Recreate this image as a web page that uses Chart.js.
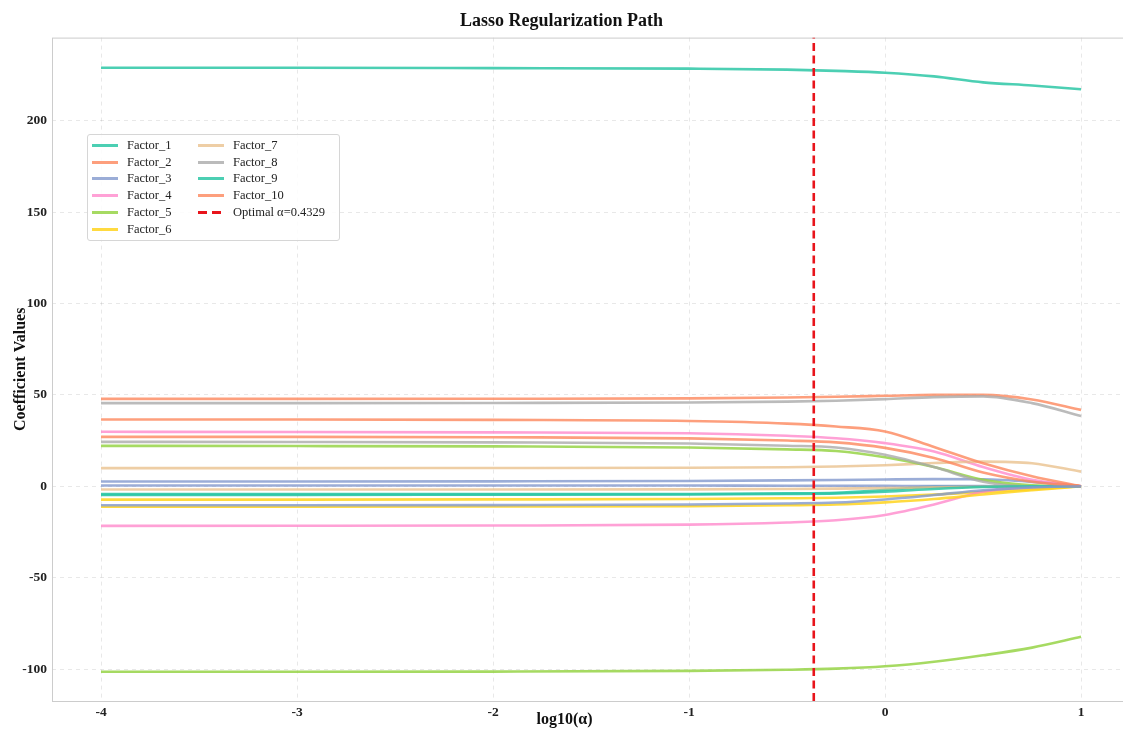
<!DOCTYPE html>
<html>
<head>
<meta charset="utf-8">
<title>Lasso Regularization Path</title>
<script src="https://cdn.jsdelivr.net/npm/chart.js@4.4.1/dist/chart.umd.min.js"></script>
<style>
  html, body { margin: 0; padding: 0; background: #fff; }
  #wrap { position: relative; width: 1123px; height: 733px; }
  #legend {
    position: absolute; left: 87px; top: 134px; width: 253px; height: 107px;
    box-sizing: border-box; border: 1px solid #d6d6d6; border-radius: 3px;
    background: rgba(255,255,255,0.85); padding: 2px 0 0 4px;
    display: grid; grid-template-columns: 106px 140px; grid-template-rows: repeat(6, 16.8px);
    grid-auto-flow: column; font: 12.5px 'Liberation Serif', 'DejaVu Serif', serif; color: #222;
  }
  .item { display: flex; align-items: center; white-space: nowrap; }
  .swatch { width: 26px; height: 3px; margin-right: 9px; flex: none; }
  #xlabel {
    position: absolute; left: 3px; width: 1123px; top: 710px; text-align: center;
    font: bold 16px 'Liberation Serif', serif; color: #111;
  }
</style>
</head>
<body>
<div id="wrap">
  <canvas id="lasso-path" width="1123" height="733"></canvas>
  <div id="legend"></div>
  <div id="xlabel">log10(α)</div>
</div>
<script>
'use strict';

// log10(alpha) grid the coefficients were read at
const ALPHA_LOG = [-4, -3, -2, -1, -0.5, -0.25, 0, 0.25, 0.5, 0.75, 1];

// coefficient values per factor
const FACTOR_1  = [229.0, 229.0, 228.8, 228.5, 228.0, 227.3, 226.3, 224.3, 221.0, 219.3, 217.2];
const FACTOR_2  = [47.8, 47.8, 47.9, 48.1, 48.6, 49.0, 49.5, 50.0, 50.0, 47.5, 41.8];
const FACTOR_3  = [2.6, 2.6, 2.7, 2.9, 3.2, 3.4, 3.7, 3.9, 3.8, 2.4, 0.0];
const FACTOR_4  = [29.8, 29.7, 29.5, 29.0, 27.6, 26.3, 23.6, 19.0, 10.5, 3.5, 0.0];
const FACTOR_5  = [-101.5, -101.5, -101.4, -101.0, -100.4, -99.8, -98.5, -96.0, -92.5, -88.3, -82.4];
const FACTOR_6  = [-7.3, -7.3, -7.2, -7.0, -6.6, -6.3, -5.6, -4.6, -3.2, -1.6, 0.0];
const FACTOR_7  = [9.9, 9.9, 10.0, 10.1, 10.4, 10.8, 11.5, 12.7, 13.5, 12.6, 8.0];
const FACTOR_8  = [45.5, 45.5, 45.6, 45.8, 46.3, 46.8, 47.7, 48.8, 49.2, 45.5, 38.5];
const FACTOR_9  = [-4.3, -4.3, -4.3, -4.2, -3.9, -3.6, -2.0, -0.2, 0.0, 0.0, 0.0];
const FACTOR_10 = [36.5, 36.5, 36.3, 35.7, 34.3, 32.7, 30.0, 21.5, 12.6, 5.5, 0.0];
const FACTOR_11 = [0.4, 0.4, 0.4, 0.4, 0.3, 0.3, 0.2, 0.1, 0.1, 0.0, 0.0];
const FACTOR_12 = [-21.7, -21.6, -21.5, -21.0, -19.8, -18.6, -15.7, -10.0, -3.0, -0.5, 0.0];
const FACTOR_13 = [22.1, 22.0, 21.8, 21.2, 20.2, 19.3, 15.9, 10.5, 3.5, 0.5, 0.0];
const FACTOR_14 = [-11.2, -11.2, -11.1, -10.9, -10.4, -10.0, -8.8, -7.0, -4.5, -2.2, 0.0];
const FACTOR_15 = [-1.8, -1.8, -1.8, -1.7, -1.5, -1.3, -1.0, -0.6, -0.3, -0.1, 0.0];
const FACTOR_16 = [24.3, 24.2, 24.0, 23.4, 22.2, 21.2, 17.2, 10.5, 2.5, 0.0, 0.0];
const FACTOR_17 = [-4.7, -4.7, -4.6, -4.5, -4.2, -3.9, -3.0, -1.5, -0.4, 0.0, 0.0];
const FACTOR_18 = [27.0, 27.0, 26.8, 26.2, 25.0, 24.0, 21.0, 15.5, 7.5, 2.5, 0.0];
const FACTOR_19 = [-10.4, -10.4, -10.3, -10.0, -9.4, -8.9, -7.2, -4.8, -2.2, -0.6, 0.0];

const FACTORS = [FACTOR_1, FACTOR_2, FACTOR_3, FACTOR_4, FACTOR_5, FACTOR_6, FACTOR_7,
    FACTOR_8, FACTOR_9, FACTOR_10, FACTOR_11, FACTOR_12, FACTOR_13, FACTOR_14,
    FACTOR_15, FACTOR_16, FACTOR_17, FACTOR_18, FACTOR_19];

const OPTIMAL_ALPHA = 0.4329;
const X_TICKS = [-4, -3, -2, -1, 0, 1];
const Y_TICKS = [-100, -50, 0, 50, 100, 150, 200];
const X_RANGE = [-4.25, 1.214];
const Y_RANGE = [-117.5, 245.5];
const LEGEND_COUNT = 10; // only the first ten factors go in the legend

const PALETTE = [
    'rgba(45,199,166,0.85)', 'rgba(252,135,92,0.8)', 'rgba(130,152,205,0.8)', 'rgba(255,130,200,0.75)',
    'rgba(150,212,70,0.85)', 'rgba(255,212,30,0.85)', 'rgba(232,190,135,0.75)', 'rgba(170,170,170,0.8)'
];
const SERIF = "'Liberation Serif', 'DejaVu Serif', serif";

const datasets = FACTORS.map((vals, i) => ({
    label: 'Factor_' + (i + 1),
    data: ALPHA_LOG.map((x, j) => ({x: x, y: vals[j]})),
    borderColor: PALETTE[i % PALETTE.length],
    borderWidth: 2.6,
    pointRadius: 0,
    cubicInterpolationMode: 'monotone',
    order: -i // later factors on top, like matplotlib
}));

const optX = Math.log10(OPTIMAL_ALPHA);
datasets.push({
    label: 'Optimal α=' + OPTIMAL_ALPHA,
    data: [{x: optX, y: Y_RANGE[0]}, {x: optX, y: Y_RANGE[1]}],
    borderColor: '#e8141b',
    borderWidth: 2.6,
    borderDash: [8, 4.5],
    pointRadius: 0,
    order: -100
});

// light frame round the plot area
const framePlugin = {
    id: 'frame',
    beforeDatasetsDraw(chart) {
        const {ctx, chartArea: a} = chart;
        ctx.save();
        ctx.strokeStyle = '#cccccc';
        ctx.lineWidth = 1;
        ctx.strokeRect(a.left + 0.5, a.top + 0.5, a.width, a.height);
        ctx.restore();
    }
};

const ctx = document.getElementById('lasso-path').getContext('2d');
const chart = new Chart(ctx, {
    type: 'line',
    data: {datasets: datasets},
    plugins: [framePlugin],
    options: {
        responsive: false,
        animation: false,
        layout: {padding: 0},
        plugins: {
            legend: {display: false},
            tooltip: {enabled: false},
            title: {
                display: true,
                text: 'Lasso Regularization Path',
                color: '#111',
                font: {family: SERIF, size: 18, weight: 'bold'},
                padding: {top: 11, bottom: 5}
            }
        },
        scales: {
            x: {
                type: 'linear',
                min: X_RANGE[0],
                max: X_RANGE[1],
                afterBuildTicks: axis => { axis.ticks = X_TICKS.map(v => ({value: v})); },
                afterFit: axis => { axis.height = 32; },
                ticks: {
                    color: '#222',
                    padding: 3,
                    font: {family: SERIF, size: 13.5, weight: 'bold'},
                    callback: v => String(v)
                },
                grid: {color: 'rgba(0,0,0,0.09)', lineWidth: 1, drawTicks: false},
                border: {display: false, dash: [4, 4]}
            },
            y: {
                type: 'linear',
                min: Y_RANGE[0],
                max: Y_RANGE[1],
                afterBuildTicks: axis => { axis.ticks = Y_TICKS.map(v => ({value: v})); },
                afterFit: axis => { axis.width = 52; },
                ticks: {
                    color: '#222',
                    padding: 5,
                    font: {family: SERIF, size: 13.5, weight: 'bold'},
                    callback: v => String(v)
                },
                grid: {color: 'rgba(0,0,0,0.09)', lineWidth: 1, drawTicks: false},
                border: {display: false, dash: [4, 4]},
                title: {
                    display: true,
                    text: 'Coefficient Values',
                    color: '#111',
                    font: {family: SERIF, size: 16, weight: 'bold'},
                    padding: {top: 11, bottom: 0}
                }
            }
        }
    }
});

// legend box, two columns, first ten factors + optimal line
const legendEl = document.getElementById('legend');
chart.data.datasets.forEach((ds, i) => {
    if (i >= LEGEND_COUNT && i < FACTORS.length) return;
    const item = document.createElement('div');
    item.className = 'item';
    const sw = document.createElement('span');
    sw.className = 'swatch';
    if (ds.borderDash) {
        sw.style.background = 'repeating-linear-gradient(to right, ' + ds.borderColor + ' 0 9px, transparent 9px 14px)';
    } else {
        sw.style.background = ds.borderColor;
    }
    const txt = document.createElement('span');
    txt.textContent = ds.label;
    item.appendChild(sw);
    item.appendChild(txt);
    legendEl.appendChild(item);
});
</script>
</body>
</html>
